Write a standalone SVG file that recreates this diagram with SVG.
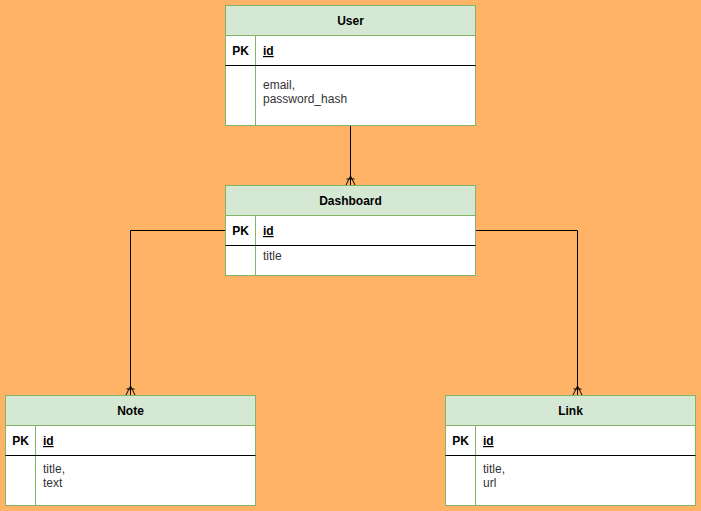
<svg xmlns="http://www.w3.org/2000/svg" width="701" height="511" viewBox="0 0 701 511">
<style>
.hdr{fill:#d5e8d4;stroke:#82b366;stroke-width:1}
.body{fill:#ffffff;stroke:#82b366;stroke-width:1}
.sep{stroke:#000000;stroke-width:1}
.col{stroke:#82b366;stroke-width:1}
.t{font-family:"Liberation Sans",Arial,Helvetica,sans-serif;font-size:12px;fill:#000000}
.b{font-weight:bold}
.f{fill:#333333}
.edge{fill:none;stroke:#000000;stroke-width:1}
</style>
<defs>
<marker id="many" markerWidth="14" markerHeight="14" refX="12" refY="7" orient="auto" markerUnits="userSpaceOnUse">
<path d="M12,2.5 L3,7 L12,11.5 M3,7 L12,7 M6,3 L6,11" fill="none" stroke="#000000" stroke-width="1"/>
</marker>
</defs>
<rect x="0" y="0" width="701" height="511" fill="#ffb366"/>
<g id="connectors">
<path class="edge" d="M350.5,125.5 L350.5,185" marker-end="url(#many)"/>
<path class="edge" d="M225.5,230.5 L130.5,230.5 L130.5,395" marker-end="url(#many)"/>
<path class="edge" d="M475.5,230.5 L577.5,230.5 L577.5,395" marker-end="url(#many)"/>
</g>
<g id="user">
<rect class="body" x="225.5" y="5.5" width="250" height="120"/>
<rect class="hdr" x="225.5" y="5.5" width="250" height="30"/>
<line class="col" x1="255.5" y1="35.5" x2="255.5" y2="125.5"/>
<line class="sep" x1="225.5" y1="65.5" x2="475.5" y2="65.5"/>
<text class="t b" x="350.5" y="25" text-anchor="middle">User</text>
<text class="t b" x="240.5" y="55" text-anchor="middle">PK</text>
<text class="t b" x="263" y="55" text-decoration="underline">id</text>
<text class="t f" x="263" y="89">email,</text>
<text class="t f" x="263" y="103">password_hash</text>
</g>
<g id="dashboard">
<rect class="body" x="225.5" y="185.5" width="250" height="90"/>
<rect class="hdr" x="225.5" y="185.5" width="250" height="30"/>
<line class="col" x1="255.5" y1="215.5" x2="255.5" y2="275.5"/>
<line class="sep" x1="225.5" y1="245.5" x2="475.5" y2="245.5"/>
<text class="t b" x="350.5" y="205" text-anchor="middle">Dashboard</text>
<text class="t b" x="240.5" y="235" text-anchor="middle">PK</text>
<text class="t b" x="263" y="235" text-decoration="underline">id</text>
<text class="t f" x="263" y="260">title</text>
</g>
<g id="note">
<rect class="body" x="5.5" y="395.5" width="250" height="110"/>
<rect class="hdr" x="5.5" y="395.5" width="250" height="30"/>
<line class="col" x1="35.5" y1="425.5" x2="35.5" y2="505.5"/>
<line class="sep" x1="5.5" y1="455.5" x2="255.5" y2="455.5"/>
<text class="t b" x="130.5" y="415" text-anchor="middle">Note</text>
<text class="t b" x="20.5" y="445" text-anchor="middle">PK</text>
<text class="t b" x="43" y="445" text-decoration="underline">id</text>
<text class="t f" x="43" y="473">title,</text>
<text class="t f" x="43" y="487">text</text>
</g>
<g id="link">
<rect class="body" x="445.5" y="395.5" width="250" height="110"/>
<rect class="hdr" x="445.5" y="395.5" width="250" height="30"/>
<line class="col" x1="475.5" y1="425.5" x2="475.5" y2="505.5"/>
<line class="sep" x1="445.5" y1="455.5" x2="695.5" y2="455.5"/>
<text class="t b" x="570.5" y="415" text-anchor="middle">Link</text>
<text class="t b" x="460.5" y="445" text-anchor="middle">PK</text>
<text class="t b" x="483" y="445" text-decoration="underline">id</text>
<text class="t f" x="483" y="473">title,</text>
<text class="t f" x="483" y="487">url</text>
</g>
</svg>
